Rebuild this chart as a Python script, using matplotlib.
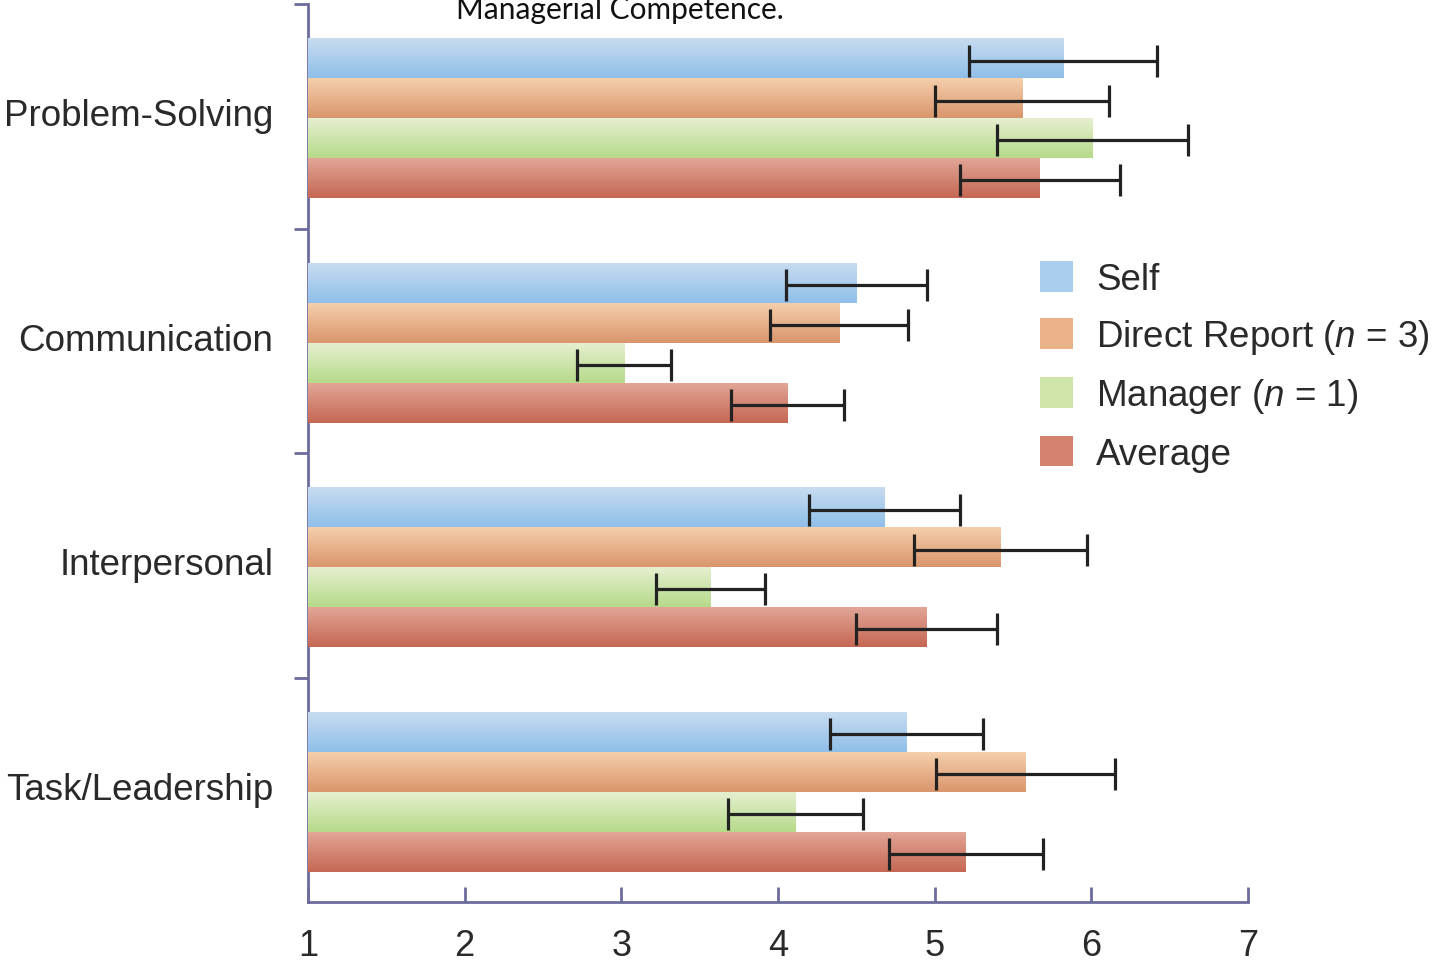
import matplotlib
matplotlib.use("Agg")
import matplotlib.pyplot as plt
import numpy as np
from matplotlib.colors import LinearSegmentedColormap
from matplotlib.patches import Patch

plt.rcParams['font.family'] = ['Liberation Sans', 'DejaVu Sans']
plt.rcParams['mathtext.fontset'] = 'custom'
plt.rcParams['mathtext.it'] = 'Liberation Sans:italic'
plt.rcParams['mathtext.rm'] = 'Liberation Sans'

categories = ["Problem-Solving", "Communication", "Interpersonal", "Task/Leadership"]
series = ["Self", "Direct Report ($n$ = 3)", "Manager ($n$ = 1)", "Average"]
self_vals = [5.82, 4.50, 4.68, 4.82]
direct_vals = [5.56, 4.39, 5.42, 5.58]
manager_vals = [6.01, 3.02, 3.57, 4.11]
average_vals = [5.67, 4.06, 4.95, 5.20]
self_err = [0.60, 0.45, 0.48, 0.49]
direct_err = [0.555, 0.44, 0.55, 0.57]
manager_err = [0.61, 0.30, 0.35, 0.43]
average_err = [0.51, 0.36, 0.45, 0.49]
x_ticks = [1, 2, 3, 4, 5, 6, 7]

values = [self_vals, direct_vals, manager_vals, average_vals]
errors = [self_err, direct_err, manager_err, average_err]
grad_colors = [("#c8dcf0", "#8fbfe9"),
               ("#f5cfac", "#da966c"),
               ("#e6efcf", "#b6da8a"),
               ("#e2a597", "#c56853")]
legend_colors = ["#a9ceee", "#e9b289", "#cfe5aa", "#d4836f"]

fig = plt.figure(figsize=(14.33, 9.62), dpi=100)
ax = fig.add_axes([308/1433, 1 - 903/962, (1248-308)/1433, (903-5)/962])

bar_h = 0.178
offsets = [-1.5, -0.5, 0.5, 1.5]
cat_pos = np.arange(len(categories)) + 0.5
group_shift = 0.009
spine_col = "#6c6c9c"

for i, (vals, errs) in enumerate(zip(values, errors)):
    y = cat_pos + group_shift + offsets[i] * bar_h
    widths = np.array(vals) - 1
    bars = ax.barh(y, widths, left=1, height=bar_h, color=legend_colors[i], linewidth=0, zorder=2)
    cmap = LinearSegmentedColormap.from_list("g%d" % i, list(grad_colors[i]))
    grad = np.linspace(0, 1, 64).reshape(-1, 1)
    for b in bars:
        x0, y0, w, h = b.get_x(), b.get_y(), b.get_width(), b.get_height()
        im = ax.imshow(grad, cmap=cmap, extent=(x0, x0 + w, y0 + h, y0), origin='upper',
                       aspect='auto', zorder=3, interpolation='bicubic')
        im.set_clip_path(b)
    ax.errorbar(vals, y + 0.01, xerr=errs, fmt='none', ecolor='#222222', elinewidth=2.3,
                capsize=11.5, capthick=2.3, zorder=4)

ax.set_xlim(1, 7)
ax.set_ylim(4, 0)
ax.set_xticks(x_ticks)
ax.set_xticklabels([str(t) for t in x_ticks])
ax.set_yticks([0, 1, 2, 3])
ax.set_yticklabels([])
ax.set_yticks(cat_pos - 0.02, minor=True)
ax.set_yticklabels(categories, minor=True)

ax.tick_params(axis='x', direction='in', length=11, width=2, color=spine_col,
               labelsize=26, pad=19, labelcolor='#2a2a2a')
ax.tick_params(axis='y', which='major', direction='out', length=10, width=2, color=spine_col)
ax.tick_params(axis='y', which='minor', length=0, labelsize=26.5, pad=25, labelcolor='#2a2a2a')

for s in ['top', 'right']:
    ax.spines[s].set_visible(False)
for s in ['left', 'bottom']:
    ax.spines[s].set_color(spine_col)
    ax.spines[s].set_linewidth(2)

handles = [Patch(facecolor=c, edgecolor='none') for c in legend_colors]
leg = fig.legend(handles, series, loc='upper left', bbox_to_anchor=(1040/1433, 1 - 262/962),
                 frameon=False, fontsize=26.5, handlelength=0.9, handleheight=0.9,
                 handletextpad=0.62, labelspacing=0.55, borderaxespad=0, borderpad=0)
for t in leg.get_texts():
    t.set_color('#2a2a2a')

fig.text(620/1433, 1 - 19/962, "Managerial Competence.", ha='center', va='baseline',
         fontsize=21.5, family=['Lato', 'DejaVu Sans'], color='#111111')

fig.savefig("out.png", dpi=100)
